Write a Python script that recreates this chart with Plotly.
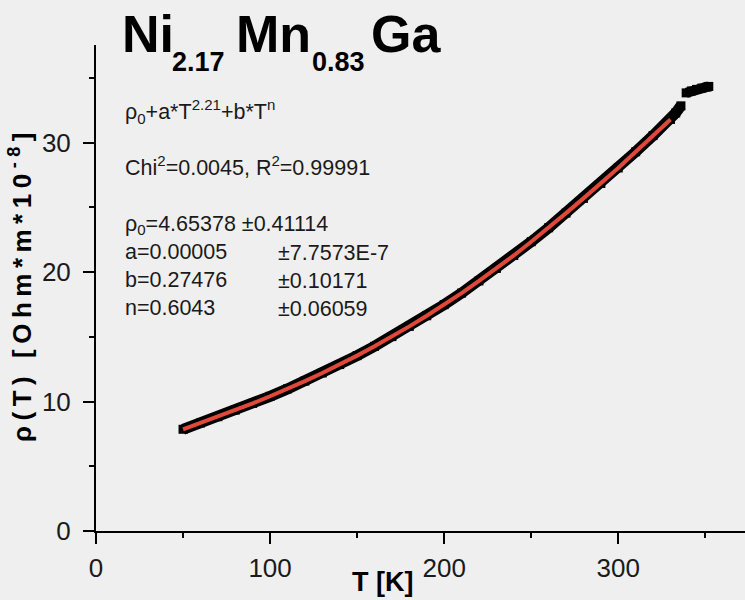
import plotly.graph_objects as go

# ---- data ----
T_data = [50, 60, 70, 80, 90, 100, 110, 120, 130, 140, 150, 160, 170, 180, 190,
          200, 210, 220, 230, 240, 250, 260, 270, 280, 290, 300, 310, 320, 330, 333, 336]
rho_data = [7.86, 8.34, 8.83, 9.34, 9.86, 10.41, 10.98, 11.58, 12.21, 12.86, 13.55,
            14.27, 15.02, 15.81, 16.63, 17.49, 18.38, 19.32, 20.29, 21.29, 22.35,
            23.43, 24.56, 25.70, 26.85, 28.05, 29.30, 30.55, 31.80, 32.30, 32.85]
T_jump = [339, 342, 345, 348, 351, 352]
rho_jump = [33.85, 34.00, 34.12, 34.22, 34.30, 34.35]
T_fit = [50, 60, 70, 80, 90, 100, 110, 120, 130, 140, 150, 160, 170, 180, 190,
         200, 210, 220, 230, 240, 250, 260, 270, 280, 290, 300, 310, 320, 330]
rho_fit = [7.86, 8.34, 8.83, 9.34, 9.86, 10.41, 10.98, 11.58, 12.21, 12.86, 13.55,
           14.27, 15.02, 15.81, 16.63, 17.49, 18.38, 19.32, 20.29, 21.29, 22.35,
           23.43, 24.56, 25.70, 26.85, 28.05, 29.30, 30.55, 31.80]
x_ticks = [0, 100, 200, 300]
y_ticks = [0, 10, 20, 30]

W, H = 745, 600
L, R, T, B = 96, 0, 45, 69
PW, PH = W - L - R, H - T - B

def px(x):
    return (x - L) / PW

def py(y):
    return (H - B - y) / PH

FONT = "Liberation Sans, Arial, sans-serif"
BG = "#efefef"

fig = go.Figure()
fig.add_trace(go.Scatter(x=T_data, y=rho_data, mode="lines+markers",
                         line=dict(color="black", width=11),
                         marker=dict(symbol="square", size=9, color="black"),
                         hoverinfo="skip"))
fig.add_trace(go.Scatter(x=T_jump, y=rho_jump, mode="lines+markers",
                         line=dict(color="black", width=10),
                         marker=dict(symbol="square", size=9, color="black"),
                         hoverinfo="skip"))
fig.add_trace(go.Scatter(x=T_fit, y=rho_fit, mode="lines",
                         line=dict(color="#e0483a", width=4),
                         hoverinfo="skip"))

axis_common = dict(
    showgrid=False, zeroline=False, showline=True, linecolor="black", linewidth=2,
    ticks="outside", ticklen=11, tickwidth=2, tickcolor="black",
    tickfont=dict(family=FONT, size=26, color="#1a1a1a"),
)

fig.update_layout(
    width=W, height=H, autosize=False,
    margin=dict(l=L, r=R, t=T, b=B, pad=0),
    paper_bgcolor=BG, plot_bgcolor=BG,
    showlegend=False,
    xaxis=dict(range=[0, 372.8], tickmode="array", tickvals=x_ticks,
               ticktext=[str(v) for v in x_ticks], ticklabelstandoff=2,
               minor=dict(dtick=50, tick0=0, ticks="outside", ticklen=5,
                          tickwidth=2, tickcolor="black"),
               **axis_common),
    yaxis=dict(range=[0, 37.55], tickmode="array", tickvals=y_ticks,
               ticktext=[str(v) for v in y_ticks], ticklabelstandoff=7,
               minor=dict(dtick=5, tick0=0, ticks="outside", ticklen=5,
                          tickwidth=2, tickcolor="black"),
               **axis_common),
)

ann = []
# title pieces
big = dict(family=FONT, size=52, color="black")
small = dict(family=FONT, size=27, color="black")
for txt, x, y, f in [("<b>Ni</b>", 120, 34, big), ("<b>2.17</b>", 170, 62, small),
                     ("<b>Mn</b>", 234, 34, big), ("<b>0.83</b>", 310, 62, small),
                     ("<b>Ga</b>", 369, 34, big)]:
    ann.append(dict(text=txt, x=px(x), y=py(y), xref="paper", yref="paper",
                    xanchor="left", yanchor="middle", showarrow=False, font=f))

info = dict(family=FONT, size=21.5, color="#1a1a1a")
block1 = ("ρ<sub>0</sub>+a*T<sup>2.21</sup>+b*T<sup>n</sup><br><br>"
          "Chi<sup>2</sup>=0.0045, R<sup>2</sup>=0.99991<br><br>"
          "ρ<sub>0</sub>=4.65378 ±0.41114<br>"
          "a=0.00005<br>b=0.27476<br>n=0.6043")
ann.append(dict(text=block1, x=px(123), y=py(94), xref="paper", yref="paper",
                xanchor="left", yanchor="top", align="left", showarrow=False, font=info))
block2 = "±7.7573E-7<br>±0.10171<br>±0.06059"
ann.append(dict(text=block2, x=px(276), y=py(239), xref="paper", yref="paper",
                xanchor="left", yanchor="top", align="left", showarrow=False, font=info))

# axis titles
ann.append(dict(text="<b>T [K]</b>", x=px(382), y=py(582), xref="paper", yref="paper",
                xanchor="center", yanchor="middle", showarrow=False,
                font=dict(family=FONT, size=27, color="black")))
ann.append(dict(text="<span style='letter-spacing:5.5px'><b>ρ(T) [Ohm*m*10<sup>-8</sup>]</b></span>",
                x=px(20), y=py(285),
                xref="paper", yref="paper", xanchor="center", yanchor="middle",
                textangle=-90, showarrow=False,
                font=dict(family=FONT, size=26, color="black")))

fig.update_layout(annotations=ann)
fig.write_html("out.html", config={"displayModeBar": False},
               post_script="document.body.style.margin='0';")
